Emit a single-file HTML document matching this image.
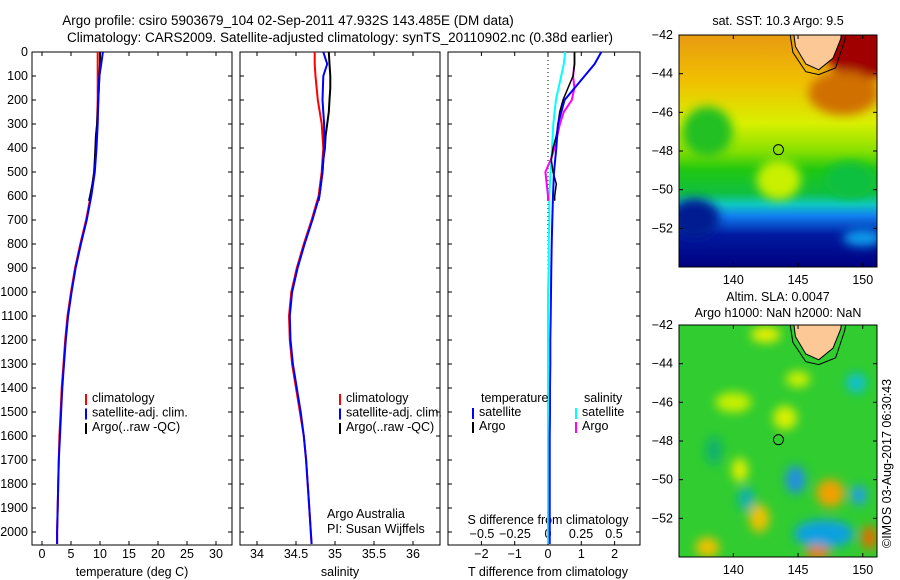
<!DOCTYPE html>
<html><head><meta charset="utf-8"><style>
body{margin:0;background:#fff}
svg{display:block;font-family:"Liberation Sans",Arial,sans-serif}
text{font-size:12.5px;fill:#000}
.tt{font-size:13.5px}
</style></head><body>
<svg id="c" width="900" height="580" viewBox="0 0 900 580" xmlns="http://www.w3.org/2000/svg">
<defs>
<linearGradient id="sstg" x1="0" y1="0" x2="0" y2="1">
<stop offset="0" stop-color="#e89a10"/><stop offset="0.2" stop-color="#f0c000"/><stop offset="0.38" stop-color="#d8f000"/>
<stop offset="0.5" stop-color="#88e000"/><stop offset="0.58" stop-color="#20c810"/><stop offset="0.68" stop-color="#10c040"/>
<stop offset="0.73" stop-color="#10c8c0"/><stop offset="0.78" stop-color="#1080f0"/><stop offset="0.86" stop-color="#001aa0"/><stop offset="1" stop-color="#000080"/>
</linearGradient>
<filter id="bl"><feGaussianBlur stdDeviation="5"/></filter>
<clipPath id="cm1"><rect x="679" y="35" width="198" height="232"/></clipPath>
<clipPath id="cm2"><rect x="679" y="325" width="198" height="232"/></clipPath>
</defs>
<text class="tt" x="288" y="25" text-anchor="middle">Argo profile: csiro 5903679_104 02-Sep-2011 47.932S 143.485E (DM data)</text>
<text class="tt" x="340" y="42" text-anchor="middle">Climatology: CARS2009. Satellite-adjusted climatology: synTS_20110902.nc (0.38d earlier)</text>
<g id="g"></g>
</svg>
<script>
// ---- data ----
const depthTicks=[0,100,200,300,400,500,600,700,800,900,1000,1100,1200,1300,1400,1500,1600,1700,1800,1900,2000];
const tTicks=[0,5,10,15,20,25,30];
const sTicks=[34,34.5,35,35.5,36];
const sTickLabels=["34","34.5","35","35.5","36"];
const dTTicks=[-2,-1,0,1,2];
const dSTicks=[-0.5,-0.25,0,0.25,0.5];
const dSTickLabels=["-0.5","-0.25","0","0.25","0.5"];
const depthClim=[0,50,100,200,300,400,500,600,700,800,900,1000,1100,1200,1300,1400,1500,1600,1700,1800,1900,2000,2050];
const tClim=[9.6,9.6,9.6,9.6,9.5,9.3,9.0,8.4,7.6,6.6,5.7,5.0,4.4,4.0,3.7,3.4,3.2,3.0,2.9,2.8,2.7,2.6,2.6];
const tSat=[10.5,10.2,9.9,9.7,9.6,9.4,9.1,8.5,7.7,6.7,5.8,5.1,4.5,4.1,3.8,3.5,3.3,3.1,2.9,2.8,2.7,2.6,2.6];
const sClim=[34.74,34.74,34.75,34.78,34.83,34.85,34.83,34.79,34.7,34.6,34.51,34.44,34.41,34.42,34.45,34.5,34.55,34.6,34.63,34.65,34.67,34.69,34.7];
const sSat=[34.85,34.9,34.85,34.84,34.86,34.86,34.84,34.8,34.71,34.61,34.52,34.45,34.42,34.43,34.46,34.51,34.56,34.6,34.63,34.65,34.67,34.69,34.7];
const depthArgo=[0,50,100,150,200,250,300,350,400,450,500,550,600,620];
const tArgo=[10.0,10.0,9.9,9.8,9.7,9.6,9.5,9.3,9.2,9.1,9.0,8.7,8.3,8.1];
const sArgo=[34.92,34.93,34.94,34.94,34.93,34.92,34.9,34.88,34.87,34.85,34.84,34.82,34.8,34.79];
const dTSat=[1.6,1.4,1.1,0.5,0.3,0.25,0.18,0.15,0.13,0.11,0.1,0.09,0.08,0.07,0.07,0.06,0.06,0.05,0.05,0.05,0.05,0.05,0.05];
const dSSat=[0.13,0.12,0.1,0.06,0.04,0.03,0.02,0.01,0.01,0.005,0.005,0,0,0,0,0,0,0,0,0,0,0,0];
const dTArgo=[0.8,0.8,0.75,0.6,0.45,0.35,0.3,0.25,0.15,0.1,0.15,0.25,0.2,0.2];
const dSArgo=[0.2,0.2,0.19,0.2,0.18,0.12,0.09,0.07,0.05,0.02,-0.02,-0.01,0.0,0.0];
// ---- axes ----
const Y0=52,YB=545;
const y=d=>Y0+d*0.24;
const xT=v=>42+v*5.8, xS=v=>257+(v-34)*78, xDT=v=>548+v*33.3, xDS=v=>548+v*132;
const G=document.getElementById('g');
const NS='http://www.w3.org/2000/svg';
function el(t,a,p){const e=document.createElementNS(NS,t);for(const k in a)e.setAttribute(k,a[k]);(p||G).appendChild(e);return e;}
function txt(x,yy,s,anchor){const e=el('text',{x:x,y:yy,'text-anchor':anchor||'middle'});e.textContent=s;return e;}
function line(xs,ds,fx,color,w,name){
  const pts=xs.map((v,i)=>fx(v).toFixed(1)+','+y(ds[i]).toFixed(1)).join(' ');
  const p=el('polyline',{points:pts,fill:'none',stroke:color,'stroke-width':w});
  
  
}
const panels=[[32,232],[240,440],[448,640]];
panels.forEach((p,i)=>{
  const r=el('rect',{x:p[0],y:Y0,width:p[1]-p[0],height:YB-Y0,fill:'none',stroke:'#000','stroke-width':1});
  
  
  depthTicks.forEach(d=>{el('line',{x1:p[0],x2:p[0]+4,y1:y(d),y2:y(d),stroke:'#000'});el('line',{x1:p[1],x2:p[1]-4,y1:y(d),y2:y(d),stroke:'#000'});});
});
depthTicks.forEach(d=>{const t=txt(28,y(d)+4,String(d),'end');});
const TL=558;
tTicks.forEach(v=>{el('line',{x1:xT(v),x2:xT(v),y1:YB,y2:YB-4,stroke:'#000'});el('line',{x1:xT(v),x2:xT(v),y1:Y0,y2:Y0+4,stroke:'#000'});txt(xT(v),TL,String(v));});
sTicks.forEach((v,i)=>{el('line',{x1:xS(v),x2:xS(v),y1:YB,y2:YB-4,stroke:'#000'});el('line',{x1:xS(v),x2:xS(v),y1:Y0,y2:Y0+4,stroke:'#000'});txt(xS(v),TL,sTickLabels[i]);});
dTTicks.forEach(v=>{el('line',{x1:xDT(v),x2:xDT(v),y1:YB,y2:YB-4,stroke:'#000'});el('line',{x1:xDT(v),x2:xDT(v),y1:Y0,y2:Y0+4,stroke:'#000'});txt(xDT(v),TL,String(v).replace('-','\u2212'));});
dSTicks.forEach((v,i)=>{txt(xDS(v),538,dSTickLabels[i].replace('-','\u2212'));});
txt(132,576,'temperature (deg C)');
txt(340,576,'salinity');
txt(548,576,'T difference from climatology');
txt(548,524,'S difference from climatology');
el('line',{x1:xDT(0),x2:xDT(0),y1:Y0,y2:YB,stroke:'#000','stroke-dasharray':'1,3'});
line(tClim,depthClim,xT,'#f00',2,'temp-climatology-line');
line(tArgo,depthArgo,xT,'#000',2,'temp-argo-line');
line(tSat,depthClim,xT,'#00f',2,'temp-satellite-line');
line(sClim,depthClim,xS,'#f00',2,'sal-climatology-line');
line(sArgo,depthArgo,xS,'#000',2,'sal-argo-line');
line(sSat,depthClim,xS,'#00f',2,'sal-satellite-line');
line(dSSat,depthClim,xDS,'#0ff',2,'sdiff-satellite-line');
line(dSArgo,depthArgo,xDS,'#f0f',2,'sdiff-argo-line');
line(dTArgo,depthArgo,xDT,'#000',1.5,'tdiff-argo-line');
line(dTSat,depthClim,xDT,'#00f',2,'tdiff-satellite-line');
function leg(x,yy,c,s,name){el('line',{x1:x,x2:x,y1:yy-8,y2:yy+3,stroke:c,'stroke-width':2});const t=txt(x+6,yy,s,'start');}
[[86,'climatology','#f00'],[86,'satellite-adj. clim.','#00f'],[86,'Argo(..raw -QC)','#000']].forEach((r,i)=>{leg(r[0],402+i*14.5,r[2],r[1],'legend-entry-temp');leg(r[0]+254,402+i*14.5,r[2],r[1],'legend-entry-sal');});
txt(481,402,'temperature','start');txt(584,402,'salinity','start');
leg(473,416,'#00f','satellite','legend-tdiff-satellite');leg(473,430,'#000','Argo','legend-tdiff-argo');
leg(576,416,'#0ff','satellite','legend-sdiff-satellite');leg(576,430,'#f0f','Argo','legend-sdiff-argo');
txt(327,518,'Argo Australia','start');
txt(327,533,'PI: Susan Wijffels','start');
const lonTicks=[140,145,150];
const latTicks=[-42,-44,-46,-48,-50,-52];
const argoLon=143.485, argoLat=-47.932;
const mx=v=>679+(v-135.8)*198/15.3;
function mapFrame(top,clip,name,drawFill){
  const my=v=>top+(-42-v)*232/12;
  const g=el('g',{'clip-path':'url(#'+clip+')'});
  
  
  drawFill(g,my);
  el('path',{d:`M${mx(144.6)},${my(-41.6)} L${mx(144.8)},${my(-42.6)} L${mx(145.6)},${my(-43.5)} L${mx(146.6)},${my(-43.8)} L${mx(147.7)},${my(-43.2)} L${mx(148.3)},${my(-42.2)} L${mx(148.4)},${my(-41.6)}Z`,fill:'#fcc896',stroke:'#000','stroke-width':1},g);
  el('path',{d:`M${mx(144.3)},${my(-41.6)} L${mx(144.6)},${my(-42.9)} L${mx(145.6)},${my(-43.9)} L${mx(146.6)},${my(-44.05)} L${mx(147.9)},${my(-43.7)} L${mx(148.6)},${my(-42.3)} L${mx(148.8)},${my(-41.6)}`,fill:'none',stroke:'#000','stroke-width':1},g);
  el('circle',{cx:mx(argoLon),cy:my(argoLat),r:5,fill:'none',stroke:'#000'});
  el('rect',{x:679,y:top,width:198,height:232,fill:'none',stroke:'#000'});
  lonTicks.forEach(v=>{el('line',{x1:mx(v),x2:mx(v),y1:top,y2:top+4,stroke:'#000'});el('line',{x1:mx(v),x2:mx(v),y1:top+232,y2:top+228,stroke:'#000'});txt(mx(v),top+249,String(v));});
  latTicks.forEach(v=>{el('line',{x1:679,x2:683,y1:my(v),y2:my(v),stroke:'#000'});el('line',{x1:877,x2:873,y1:my(v),y2:my(v),stroke:'#000'});txt(673,my(v)+4,String(v).replace('-','\u2212'),'end');});
}
mapFrame(35,'cm1','sst-map',(g,my)=>{
  el('rect',{x:679,y:35,width:198,height:232,fill:'url(#sstg)'},g);
  const b=el('g',{filter:'url(#bl)'},g);
  el('ellipse',{cx:mx(150),cy:my(-42.5),rx:40,ry:35,fill:'#a00000'},b);
  el('ellipse',{cx:mx(148.5),cy:my(-45),rx:35,ry:22,fill:'#d07000'},b);
  el('ellipse',{cx:mx(138),cy:my(-47),rx:25,ry:25,fill:'#20c020'},b);
  el('ellipse',{cx:mx(149),cy:my(-49.5),rx:25,ry:18,fill:'#10c040'},b);
  el('ellipse',{cx:mx(143.5),cy:my(-49.5),rx:22,ry:20,fill:'#c8f000'},b);
  el('ellipse',{cx:mx(137),cy:my(-51.5),rx:25,ry:20,fill:'#001a90'},b);
  el('ellipse',{cx:mx(150),cy:my(-52.5),rx:20,ry:8,fill:'#10a0f0'},b);
});
txt(778,25,'sat. SST: 10.3 Argo: 9.5');
mapFrame(325,'cm2','sla-map',(g,my)=>{
  el('rect',{x:679,y:325,width:198,height:232,fill:'#30cc30'},g);
  const b=el('g',{filter:'url(#bl)'},g);
  [[142.5,-42.5,'#e8f000',15,8],[140,-46,'#c8f000',18,10],[144,-46.8,'#d8f000',12,12],[145,-44.8,'#d0f000',12,8],[149.5,-45,'#10c0d0',10,10],[138.5,-48.5,'#10b070',8,14],[140.5,-49.5,'#e0f000',8,12],[144.8,-50,'#2090e0',10,14],[147.5,-50.7,'#f0a000',14,14],[142,-52,'#f0c000',10,14],[141,-51,'#10b0b0',8,12],[147.8,-52.8,'#000080',18,12],[147,-52.8,'#10a0e0',30,14],[146.5,-53.8,'#e08000',12,8],[138,-53.5,'#f0c000',12,10],[150.5,-53,'#e07000',8,12],[149.7,-50.8,'#20a0e0',8,10]].forEach(a=>{
    el('ellipse',{cx:mx(a[0]),cy:my(a[1]),rx:a[3],ry:a[4],fill:a[2]},b);
  });
});
txt(778,301,'Altim. SLA: 0.0047');
txt(778,317,'Argo h1000: NaN h2000: NaN');
const cr=txt(0,0,'\u00a9IMOS 03-Aug-2017 06:30:43','start');
cr.setAttribute('transform','translate(891,548) rotate(-90)');


</script>
</body></html>
